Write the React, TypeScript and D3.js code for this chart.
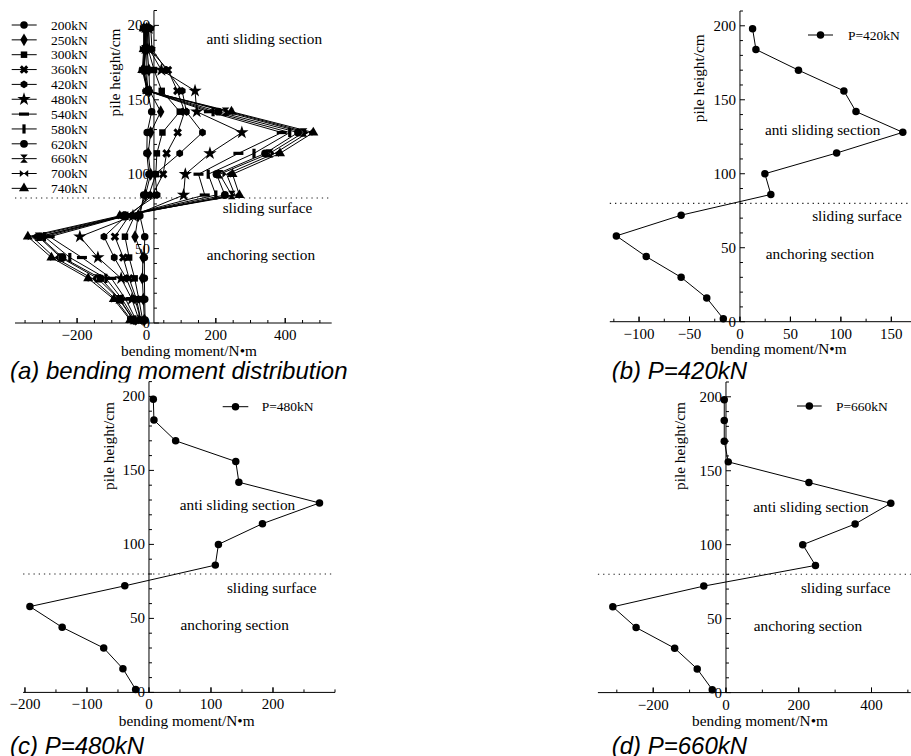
import React from 'react';
import * as d3 from 'd3';

// ---------- data ----------
const heights = [198, 184, 170, 156, 142, 128, 114, 100, 86, 72, 58, 44, 30, 16, 2];
const loadNames = ['200kN', '250kN', '300kN', '360kN', '420kN', '480kN', '540kN', '580kN', '620kN', '660kN', '700kN', '740kN'];
const m200 = [0, 1, 1, 2, 15, 2, 1, 7, -8, -19, -5, -6, -6, -5, -4];
const m250 = [1, 2, 7, 9, 41, 12, 5, 12, -3, -24, -33, -10, -12, -9, -6];
const m300 = [2, 5, 22, 44, 96, 46, 30, 27, 7, -34, -62, -50, -34, -22, -11];
const m360 = [5, 9, 62, 89, 110, 90, 58, 48, 17, -50, -91, -67, -50, -29, -16];
const m420 = [12.5, 15.8, 58, 103, 115, 161.4, 95.8, 24.7, 30.6, -58.3, -122.5, -92.9, -58.3, -32.9, -16.5];
const m480 = [7, 8, 43, 140, 145, 275, 183, 112, 107, -39, -192, -140, -73, -42, -21.5];
const m540 = [-3, -1, -8, 2, 180, 390, 265, 150, 168, -60, -279, -186, -101, -60, -30];
const m580 = [-3, -3, -8, 2, 192, 413, 310, 178, 200, -63, -294, -221, -117, -70, -34];
const m620 = [-6, -5, -9, 3, 207, 437, 342, 202, 226, -67, -308, -242, -132, -77, -37];
const m660 = [-4.7, -4.7, -4.7, 6.3, 228, 453, 355, 211, 246, -61, -311, -247, -141, -79, -37.7];
const m700 = [-7, -7, -9, 3, 238, 466, 370, 231, 255, -70, -330, -265, -157, -89, -44];
const m740 = [-8, -8, -12, 2, 245, 481, 385, 248, 268, -77, -342, -274, -168, -94, -47];
const allSeries = [m200, m250, m300, m360, m420, m480, m540, m580, m620, m660, m700, m740];
const markerKinds = ['circle', 'diamond', 'square', 'x', 'hexagon', 'star', 'hbar', 'vbar', 'circle2', 'hourglass', 'bowtie', 'triangle'];

const yMajorTicks = [0, 50, 100, 150, 200];
const xMajorA = [-200, 0, 200, 400];
const xMajorB = [-100, -50, 0, 50, 100, 150];
const xMajorC = [-200, -100, 0, 100, 200];
const xMajorD = [-200, 0, 200, 400];
const slidingA = 84;
const slidingBCD = 80;

// ---------- helpers ----------
const SERIF = "'Liberation Serif', 'Times New Roman', serif";
const SANS = "'Liberation Sans', Arial, sans-serif";
const fmt = (v: number) => (v < 0 ? '\u2212' : '') + Math.abs(v);
const range = (a: number, b: number, s: number) => d3.range(a, b + 0.001, s);

function hexPath(r: number) {
  const pts = d3.range(6).map(i => {
    const a = (Math.PI / 3) * i + Math.PI / 6;
    return [r * Math.cos(a), r * Math.sin(a)];
  });
  return 'M' + pts.map(p => p[0].toFixed(2) + ',' + p[1].toFixed(2)).join('L') + 'Z';
}

function markerPath(kind: string): string {
  switch (kind) {
    case 'circle': return d3.symbol(d3.symbolCircle, 44)() as string;
    case 'diamond': return d3.symbol(d3.symbolDiamond, 48)() as string;
    case 'square': return d3.symbol(d3.symbolSquare, 42)() as string;
    case 'x': return d3.symbol(d3.symbolCross, 46)() as string;
    case 'hexagon': return hexPath(3.9);
    case 'star': return d3.symbol(d3.symbolStar, 55)() as string;
    case 'hbar': return 'M-5,-1.6h10v3.2h-10z';
    case 'vbar': return 'M-1.6,-4.6h3.2v9.2h-3.2z';
    case 'circle2': return d3.symbol(d3.symbolCircle, 48)() as string;
    case 'hourglass': return 'M-3.8,-4.2L3.8,-4.2L-3.8,4.2L3.8,4.2Z';
    case 'bowtie': return 'M-4.2,-3.6L-4.2,3.6L4.2,-3.6L4.2,3.6Z';
    case 'triangle': return d3.symbol(d3.symbolTriangle, 44)() as string;
    default: return d3.symbol(d3.symbolCircle, 40)() as string;
  }
}

type Series = { values: number[]; kind: string };
type TextItem = { text: string; x: number; y: number };

type PanelProps = {
  xDomain: [number, number];
  xRange: [number, number];
  yRange: [number, number];
  xMajor: number[];
  xMinor: number[];
  yCross: number;
  series: Series[];
  sliding: number;
  notes: TextItem[];
  xTitle: TextItem;
  yTitle: TextItem;
  legend?: { x1: number; x2: number; y: number; tx: number; text: string };
};

function Panel(p: PanelProps) {
  const x = d3.scaleLinear().domain(p.xDomain).range(p.xRange);
  const y = d3.scaleLinear().domain([0, 210]).range(p.yRange);
  const ax = x(p.yCross);
  const ay = y(0);
  const line = d3.line<number>().x(d => x(d)).y((_, i) => y(heights[i]));
  const yMinor = range(0, 210, 10);
  return (
    <g>
      {/* dotted sliding line */}
      <line x1={p.xRange[0]} x2={p.xRange[1]} y1={y(p.sliding)} y2={y(p.sliding)}
        stroke="#222" strokeWidth={1.1} strokeDasharray="1.3 3.9" />
      {/* axes */}
      <line x1={p.xRange[0]} x2={p.xRange[1]} y1={ay} y2={ay} stroke="#000" strokeWidth={1} />
      <line x1={ax} x2={ax} y1={p.yRange[0]} y2={p.yRange[1]} stroke="#000" strokeWidth={1} />
      {p.xMinor.map(v => (
        <line key={'xm' + v} x1={x(v)} x2={x(v)} y1={ay} y2={ay - (p.xMajor.includes(v) ? 5 : 3)} stroke="#000" strokeWidth={1} />
      ))}
      {p.xMajor.map(v => (
        <line key={'xM' + v} x1={x(v)} x2={x(v)} y1={ay} y2={ay - 5} stroke="#000" strokeWidth={1} />
      ))}
      {yMinor.map(v => (
        <line key={'ym' + v} x1={ax} x2={ax + (yMajorTicks.includes(v) ? 5 : 3)} y1={y(v)} y2={y(v)} stroke="#000" strokeWidth={1} />
      ))}
      {p.xMajor.map(v => (
        <text key={'xl' + v} x={x(v)} y={ay + 17} textAnchor="middle" fontFamily={SERIF} fontSize={15}>{fmt(v)}</text>
      ))}
      {yMajorTicks.map(v => (
        <text key={'yl' + v} x={ax - 4} y={y(v) + 5} textAnchor="end" fontFamily={SERIF} fontSize={15}>{fmt(v)}</text>
      ))}
      {/* series */}
      {p.series.map((s, si) => (
        <g key={'s' + si}>
          <path d={line(s.values) as string} fill="none" stroke="#000" strokeWidth={1} />
          {s.values.map((v, i) => (
            <path key={i} d={markerPath(s.kind)} transform={`translate(${x(v)},${y(heights[i])})${s.kind === 'x' ? ' rotate(45)' : ''}`} fill="#000" />
          ))}
        </g>
      ))}
      {/* notes */}
      {p.notes.map((n, i) => (
        <text key={'n' + i} x={n.x} y={n.y} textAnchor="middle" fontFamily={SERIF} fontSize={15.3}>{n.text}</text>
      ))}
      <text x={p.xTitle.x} y={p.xTitle.y} textAnchor="middle" fontFamily={SERIF} fontSize={15.3}>{p.xTitle.text}</text>
      <text transform={`translate(${p.yTitle.x},${p.yTitle.y}) rotate(-90)`} textAnchor="middle" fontFamily={SERIF} fontSize={15.3}>{p.yTitle.text}</text>
      {p.legend && (
        <g>
          <line x1={p.legend.x1} x2={p.legend.x2} y1={p.legend.y} y2={p.legend.y} stroke="#000" strokeWidth={1} />
          <path d={markerPath('circle')} transform={`translate(${(p.legend.x1 + p.legend.x2) / 2},${p.legend.y})`} fill="#000" />
          <text x={p.legend.tx} y={p.legend.y + 4.5} fontFamily={SERIF} fontSize={13.5}>{p.legend.text}</text>
        </g>
      )}
    </g>
  );
}

const XT = 'bending moment/N\u2022m';
const YT = 'pile height/cm';

export default function App() {
  return (
    <svg width={911} height={756} style={{ position: 'absolute', left: 0, top: 0, background: '#fff' }}>
      <rect x={0} y={0} width={911} height={756} fill="#fff" />
      {/* (a) */}
      <Panel
        xDomain={[-379, 534]} xRange={[15, 331.7]} yRange={[323, 10.5]}
        xMajor={xMajorA} xMinor={range(-350, 500, 50)} yCross={21.6}
        series={allSeries.map((v, i) => ({ values: v, kind: markerKinds[i] }))}
        sliding={slidingA}
        notes={[
          { text: 'anti sliding section', x: 264.3, y: 44 },
          { text: 'sliding surface', x: 267.5, y: 213.3 },
          { text: 'anchoring section', x: 261, y: 260 },
        ]}
        xTitle={{ text: XT, x: 189, y: 356 }}
        yTitle={{ text: YT, x: 120, y: 72.5 }}
      />
      <g>
        {loadNames.map((n, i) => {
          const yy = 25 + i * 14.85;
          return (
            <g key={n}>
              <line x1={11.7} x2={36.7} y1={yy} y2={yy} stroke="#000" strokeWidth={1} />
              <path d={markerPath(markerKinds[i])} transform={`translate(24,${yy})${markerKinds[i] === 'x' ? ' rotate(45)' : ''}`} fill="#000" />
              <text x={51} y={yy + 4.7} fontFamily={SERIF} fontSize={13.5}>{n}</text>
            </g>
          );
        })}
      </g>
      {/* (b) */}
      <Panel
        xDomain={[-129, 169.5]} xRange={[609.8, 911]} yRange={[321.7, 11]}
        xMajor={xMajorB} xMinor={range(-125, 150, 25)} yCross={0}
        series={[{ values: m420, kind: 'circle' }]}
        sliding={slidingBCD}
        notes={[
          { text: 'anti sliding section', x: 822.7, y: 135 },
          { text: 'sliding surface', x: 857, y: 221.3 },
          { text: 'anchoring section', x: 820, y: 259 },
        ]}
        xTitle={{ text: XT, x: 778.7, y: 354 }}
        yTitle={{ text: YT, x: 703.5, y: 78.3 }}
        legend={{ x1: 808, x2: 833, y: 35, tx: 848, text: 'P=420kN' }}
      />
      <text x={10} y={379} fontFamily={SANS} fontStyle="italic" fontSize={24}>(a) bending moment distribution</text>
      <text x={611.7} y={379} fontFamily={SANS} fontStyle="italic" fontSize={24}>(b) P=420kN</text>
      <rect x={0} y={382.5} width={911} height={6} fill="#fff" />
      {/* (c) */}
      <Panel
        xDomain={[-203, 300]} xRange={[23.1, 335]} yRange={[692.4, 381.6]}
        xMajor={xMajorC} xMinor={range(-200, 300, 50)} yCross={0}
        series={[{ values: m480, kind: 'circle' }]}
        sliding={slidingBCD}
        notes={[
          { text: 'anti sliding section', x: 237.5, y: 509.7 },
          { text: 'sliding surface', x: 271.7, y: 593 },
          { text: 'anchoring section', x: 234.7, y: 630 },
        ]}
        xTitle={{ text: XT, x: 186.7, y: 725.5 }}
        yTitle={{ text: YT, x: 113.5, y: 446 }}
        legend={{ x1: 222.7, x2: 248.3, y: 406.7, tx: 261.7, text: 'P=480kN' }}
      />
      {/* (d) */}
      <Panel
        xDomain={[-352, 508]} xRange={[597.9, 910.8]} yRange={[692.6, 382]}
        xMajor={xMajorD} xMinor={range(-300, 500, 100)} yCross={0}
        series={[{ values: m660, kind: 'circle' }]}
        sliding={slidingBCD}
        notes={[
          { text: 'anti sliding section', x: 811, y: 511.7 },
          { text: 'sliding surface', x: 845.7, y: 593 },
          { text: 'anchoring section', x: 808, y: 630.7 },
        ]}
        xTitle={{ text: XT, x: 760, y: 725.5 }}
        yTitle={{ text: YT, x: 685.2, y: 446 }}
        legend={{ x1: 797, x2: 821.7, y: 406, tx: 836, text: 'P=660kN' }}
      />
      <text x={10} y={754} fontFamily={SANS} fontStyle="italic" fontSize={24}>(c) P=480kN</text>
      <text x={611.7} y={754} fontFamily={SANS} fontStyle="italic" fontSize={24}>(d) P=660kN</text>
    </svg>
  );
}
